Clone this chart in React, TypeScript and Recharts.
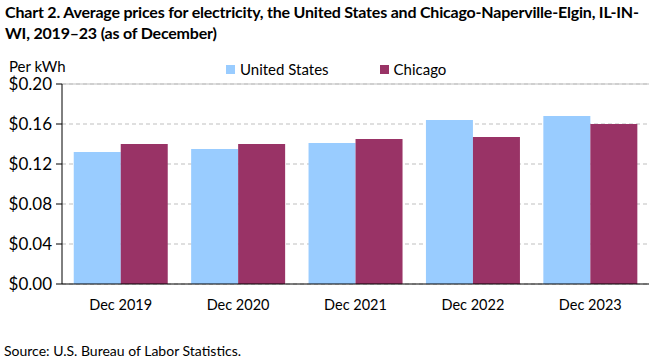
import React from "react";
import { BarChart, Bar, XAxis, YAxis, CartesianGrid, ReferenceLine } from "recharts";

const categories = ["Dec 2019", "Dec 2020", "Dec 2021", "Dec 2022", "Dec 2023"];
const unitedStates = [0.132, 0.135, 0.141, 0.164, 0.168];
const chicago = [0.140, 0.140, 0.145, 0.147, 0.160];
const seriesNames = ["United States", "Chicago"];
const seriesColors = ["#99CCFF", "#993366"];
const yTicks = [0, 0.04, 0.08, 0.12, 0.16, 0.2];

const titleLine1 = "Chart 2. Average prices for electricity, the United States and Chicago-Naperville-Elgin, IL-IN-";
const titleLine2 = "WI, 2019–23 (as of December)";
const yUnit = "Per kWh";
const source = "Source: U.S. Bureau of Labor Statistics.";

const data = categories.map((c, i) => ({ name: c, us: unitedStates[i], chi: chicago[i] }));

const FONT = "Lato, 'Noto Sans', sans-serif";

export default function App() {
  return (
    <div style={{ position: "absolute", left: 0, top: 0, width: 661, height: 360, background: "#fff", fontFamily: FONT, color: "#000", overflow: "hidden" }}>
      <div style={{ position: "absolute", left: 5, top: 1, fontSize: 16, fontWeight: 700, lineHeight: "21px", whiteSpace: "nowrap", letterSpacing: "-0.2px" }}>
        <div>{titleLine1}</div>
        <div>{titleLine2}</div>
      </div>
      <div style={{ position: "absolute", left: 9, top: 56, fontSize: 15, lineHeight: "20px" }}>{yUnit}</div>
      <div style={{ position: "absolute", left: 226, top: 59, fontSize: 15, lineHeight: "20px", display: "flex", alignItems: "center" }}>
        <span style={{ display: "inline-block", width: 9, height: 9, background: seriesColors[0], marginRight: 5 }} />
        <span>{seriesNames[0]}</span>
        <span style={{ display: "inline-block", width: 9, height: 9, background: seriesColors[1], marginLeft: 51, marginRight: 5 }} />
        <span>{seriesNames[1]}</span>
      </div>
      <div style={{ position: "absolute", left: 4, top: 343, fontSize: 14, lineHeight: "16px" }}>{source}</div>
      <div style={{ position: "absolute", left: 0, top: 0 }}>
        <BarChart width={661} height={360} data={data} margin={{ top: 84, right: 12, bottom: 46, left: 0 }} barCategoryGap="10%" barGap={0}>
          <CartesianGrid yAxisId="left" vertical={false} stroke="#BFBFBF" strokeDasharray="4 3" />
          <XAxis dataKey="name" axisLine={{ stroke: "#000" }} tickLine={false} tickSize={0} tickMargin={16} height={30} tick={{ fontSize: 14.5, fill: "#000", fontFamily: FONT }} interval={0} />
          <YAxis yAxisId="left" domain={[0, 0.2]} ticks={yTicks} width={62} axisLine={{ stroke: "#000" }} tickLine={{ stroke: "#000" }} tickSize={6} tickMargin={4} tickFormatter={(v: number) => `$${v.toFixed(2)}`} tick={{ fontSize: 17, fill: "#000", fontFamily: FONT }} allowDataOverflow />
          <YAxis yAxisId="right" orientation="right" domain={[0, 0.2]} width={0} tick={false} tickLine={false} axisLine={{ stroke: "#BFBFBF" }} />
          <ReferenceLine yAxisId="left" y={0.2} stroke="#BFBFBF" strokeDasharray="0" />
          <Bar yAxisId="left" dataKey="us" name={seriesNames[0]} fill={seriesColors[0]} isAnimationActive={false} />
          <Bar yAxisId="left" dataKey="chi" name={seriesNames[1]} fill={seriesColors[1]} isAnimationActive={false} />
        </BarChart>
      </div>
    </div>
  );
}
